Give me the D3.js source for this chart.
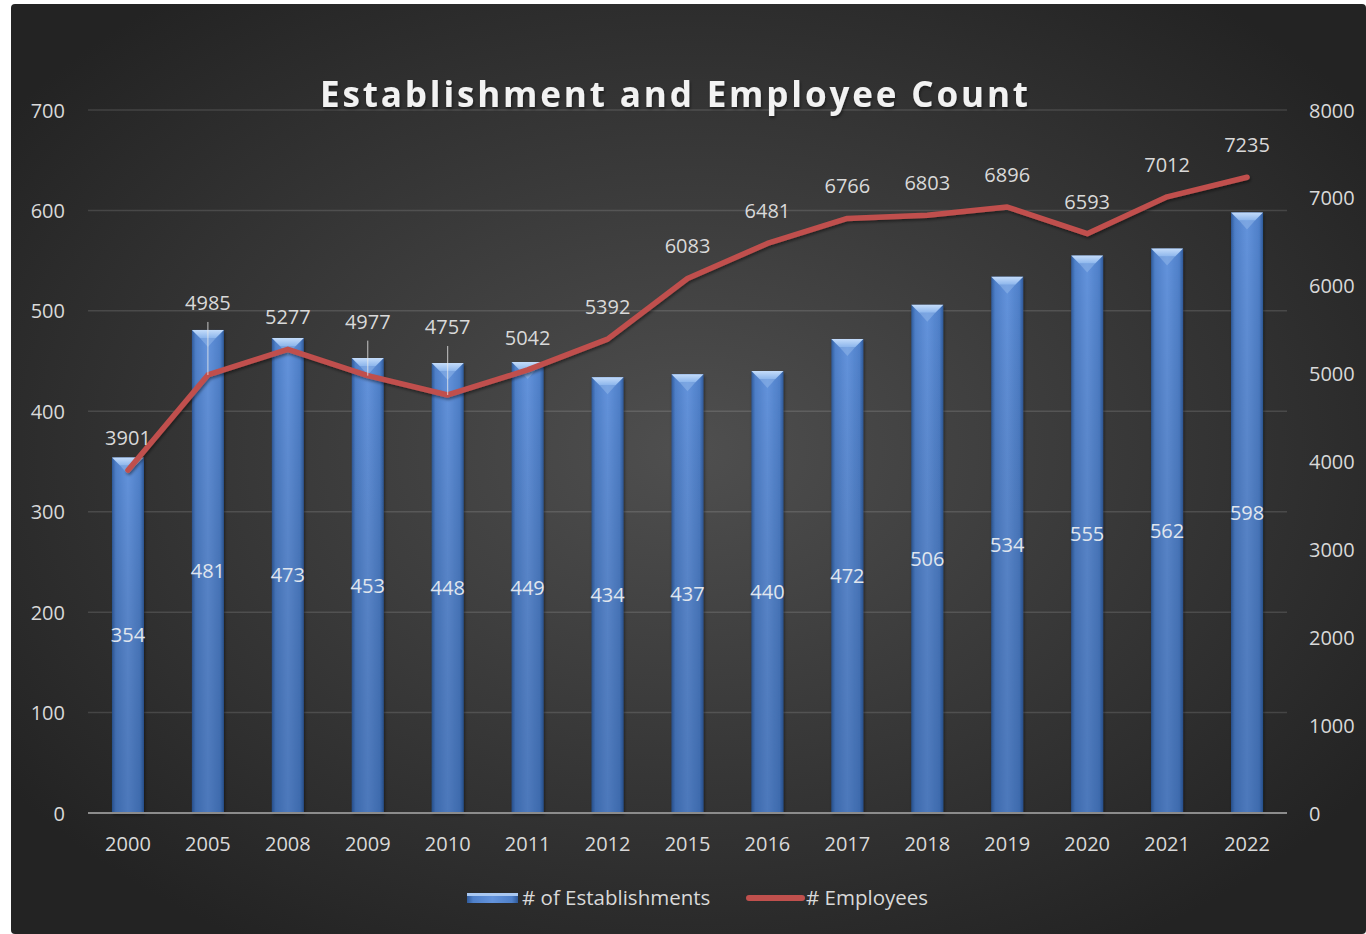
<!DOCTYPE html>
<html><head><meta charset="utf-8">
<script src="https://cdn.jsdelivr.net/npm/d3@7"></script>
<style>
html,body{margin:0;padding:0;background:#fff;}
svg{display:block;}
text{font-family:"Open Sans","Noto Sans",sans-serif;}
</style></head>
<body>
<svg id="chart" width="1366" height="934"></svg>
<script>
const years = ["2000","2005","2008","2009","2010","2011","2012","2015","2016","2017","2018","2019","2020","2021","2022"];
const establishments = [354,481,473,453,448,449,434,437,440,472,506,534,555,562,598];
const employees = [3901,4985,5277,4977,4757,5042,5392,6083,6481,6766,6803,6896,6593,7012,7235];
const leftTicks = [0,100,200,300,400,500,600,700];
const rightTicks = [0,1000,2000,3000,4000,5000,6000,7000,8000];
// labels that were dragged away from their points (with leader lines), extra offset in px
const labelLift = {"2005":40, "2009":22, "2010":36};

const svg = d3.select("#chart");
const defs = svg.append("defs");

const bg = defs.append("radialGradient").attr("id","bg").attr("cx","50%").attr("cy","48%").attr("r","62%");
bg.append("stop").attr("offset","0%").attr("stop-color","#4f4f4f");
bg.append("stop").attr("offset","100%").attr("stop-color","#232323");

const barG = defs.append("linearGradient").attr("id","barG").attr("x1","0").attr("x2","1").attr("y1","0").attr("y2","0");
[["0%","#2f5a9a"],["12%","#4f80c9"],["50%","#6393dc"],["88%","#4f80c9"],["100%","#2f5a9a"]].forEach(([o,c])=>barG.append("stop").attr("offset",o).attr("stop-color",c));
const barV = defs.append("linearGradient").attr("id","barV").attr("x1","0").attr("x2","0").attr("y1","0").attr("y2","1");
barV.append("stop").attr("offset","0%").attr("stop-color","#000").attr("stop-opacity",0);
barV.append("stop").attr("offset","100%").attr("stop-color","#0a2a5a").attr("stop-opacity",0.25);
const topG = defs.append("linearGradient").attr("id","topG").attr("x1","0").attr("x2","0").attr("y1","0").attr("y2","1");
topG.append("stop").attr("offset","0%").attr("stop-color","#c4dcfa");
topG.append("stop").attr("offset","100%").attr("stop-color","#8db6ec");

const shadow = defs.append("filter").attr("id","sh").attr("x","-20%").attr("y","-20%").attr("width","140%").attr("height","140%");
shadow.append("feDropShadow").attr("dx",1).attr("dy",2).attr("stdDeviation",1.5).attr("flood-color","#000").attr("flood-opacity",0.45);

// background
svg.append("rect").attr("x",11).attr("y",4).attr("width",1366-11).attr("height",934-4).attr("rx",4).attr("fill","url(#bg)");

const plot = {left:88, right:1287, top:110, bottom:813};
const x = d3.scaleBand().domain(years).range([plot.left,plot.right]).paddingInner(0.6).paddingOuter(0.3);
const yL = d3.scaleLinear().domain([0,700]).range([plot.bottom,plot.top]);
const yR = d3.scaleLinear().domain([0,8000]).range([plot.bottom,plot.top]);
const cx = d => x(d)+x.bandwidth()/2;

// gridlines
svg.append("g").selectAll("line").data(leftTicks.filter(t=>t>0)).join("line")
  .attr("x1",plot.left).attr("x2",plot.right).attr("y1",d=>yL(d)).attr("y2",d=>yL(d))
  .attr("stroke","#ffffff").attr("stroke-opacity",0.13).attr("stroke-width",1.5);

// left axis
const axL = svg.append("g").attr("transform",`translate(${plot.left-23},0)`)
  .call(d3.axisLeft(yL).tickValues(leftTicks).tickFormat(d3.format("d")).tickSize(0).tickPadding(0));
axL.select(".domain").remove();
axL.selectAll("text").attr("fill","#d9d9d9").style("font-size","20px").attr("dy","0.35em");

// right axis
const axR = svg.append("g").attr("transform",`translate(${plot.right+22},0)`)
  .call(d3.axisRight(yR).tickValues(rightTicks).tickFormat(d3.format("d")).tickSize(0).tickPadding(0));
axR.select(".domain").remove();
axR.selectAll("text").attr("fill","#d9d9d9").style("font-size","20px").attr("dy","0.35em");

// bars
const bw = x.bandwidth();
const bars = svg.append("g").selectAll("g").data(years.map((y,i)=>({y,v:establishments[i]}))).join("g");
bars.append("rect").attr("x",d=>x(d.y)).attr("y",d=>yL(d.v)).attr("width",bw).attr("height",d=>yL(0)-yL(d.v))
  .attr("fill","url(#barG)").attr("filter","url(#sh)");
bars.append("rect").attr("x",d=>x(d.y)).attr("y",d=>yL(d.v)).attr("width",bw).attr("height",d=>yL(0)-yL(d.v))
  .attr("fill","url(#barV)");
bars.append("path").attr("d",d=>{
  const x0=x(d.y), y0=yL(d.v), b=Math.min(8,(yL(0)-yL(d.v))/2);
  return `M${x0},${y0}L${x0+bw},${y0}L${x0+bw-b},${y0+b}L${x0+b},${y0+b}Z`;
}).attr("fill","url(#topG)");
bars.append("path").attr("d",d=>{
  const x0=x(d.y), y0=yL(d.v), b=Math.min(8,(yL(0)-yL(d.v))/2);
  return `M${x0+b},${y0+b}L${x0+bw/2},${y0+b+9}L${x0+bw-b},${y0+b}Z`;
}).attr("fill","#8fb7ea").attr("opacity",0.55);
bars.append("text").attr("x",d=>cx(d.y)).attr("y",d=>yL(d.v/2)).attr("dy","0.35em")
  .attr("text-anchor","middle").attr("fill","#e0e6ee").style("font-size","20px").text(d=>d.v);

// x axis baseline
svg.append("line").attr("x1",plot.left).attr("x2",plot.right).attr("y1",plot.bottom).attr("y2",plot.bottom)
  .attr("stroke","#8c8c8c").attr("stroke-width",2);
const axB = svg.append("g").attr("transform",`translate(0,${plot.bottom})`)
  .call(d3.axisBottom(x).tickSize(0).tickPadding(24));
axB.select(".domain").remove();
axB.selectAll("text").attr("fill","#d9d9d9").style("font-size","20px");

// line
const pts = years.map((y,i)=>({y,v:employees[i]}));
svg.append("path").datum(pts)
  .attr("d",d3.line().x(d=>cx(d.y)).y(d=>yR(d.v)))
  .attr("fill","none").attr("stroke","#c0504d").attr("stroke-width",5.5)
  .attr("stroke-linejoin","round").attr("stroke-linecap","round").attr("filter","url(#sh)");

// line labels
const lbl = svg.append("g");
pts.forEach(d=>{
  const lift = labelLift[d.y]||0;
  const ly = yR(d.v)-32-lift;
  if(lift){
    lbl.append("line").attr("x1",cx(d.y)).attr("x2",cx(d.y)).attr("y1",ly+19).attr("y2",yR(d.v))
      .attr("stroke","#e8e8e8").attr("stroke-opacity",0.8).attr("stroke-width",1);
  }
  lbl.append("text").attr("x",cx(d.y)).attr("y",ly).attr("dy","0.35em").attr("text-anchor","middle")
    .attr("fill","#d9d9d9").style("font-size","20px").text(d.v);
});

// title
const title = svg.append("text").attr("x",674).attr("y",95).attr("dy","0.35em").attr("text-anchor","middle")
  .attr("fill","#f2f2f2").style("font-size","35px").style("font-weight","bold").attr("filter","url(#sh)")
  .text("Establishment and Employee Count");
{
  const n = title.text().length;
  const w = title.node().getComputedTextLength();
  const ls = (708 - w)/(n-1);
  title.style("letter-spacing",ls+"px").attr("x",674+ls/2);
}

// legend
const lg = svg.append("g");
lg.append("rect").attr("x",467).attr("y",893).attr("width",51).attr("height",10).attr("fill","url(#barG)");
lg.append("rect").attr("x",467).attr("y",893).attr("width",51).attr("height",3).attr("fill","#a9c8f2");
lg.append("text").attr("x",522).attr("y",898).attr("dy","0.35em").attr("fill","#d9d9d9").style("font-size","20.5px").text("# of Establishments");
lg.append("line").attr("x1",749).attr("x2",802).attr("y1",898).attr("y2",898).attr("stroke","#c0504d").attr("stroke-width",6).attr("stroke-linecap","round");
lg.append("text").attr("x",806).attr("y",898).attr("dy","0.35em").attr("fill","#d9d9d9").style("font-size","20.5px").text("# Employees");
</script>
</body></html>
